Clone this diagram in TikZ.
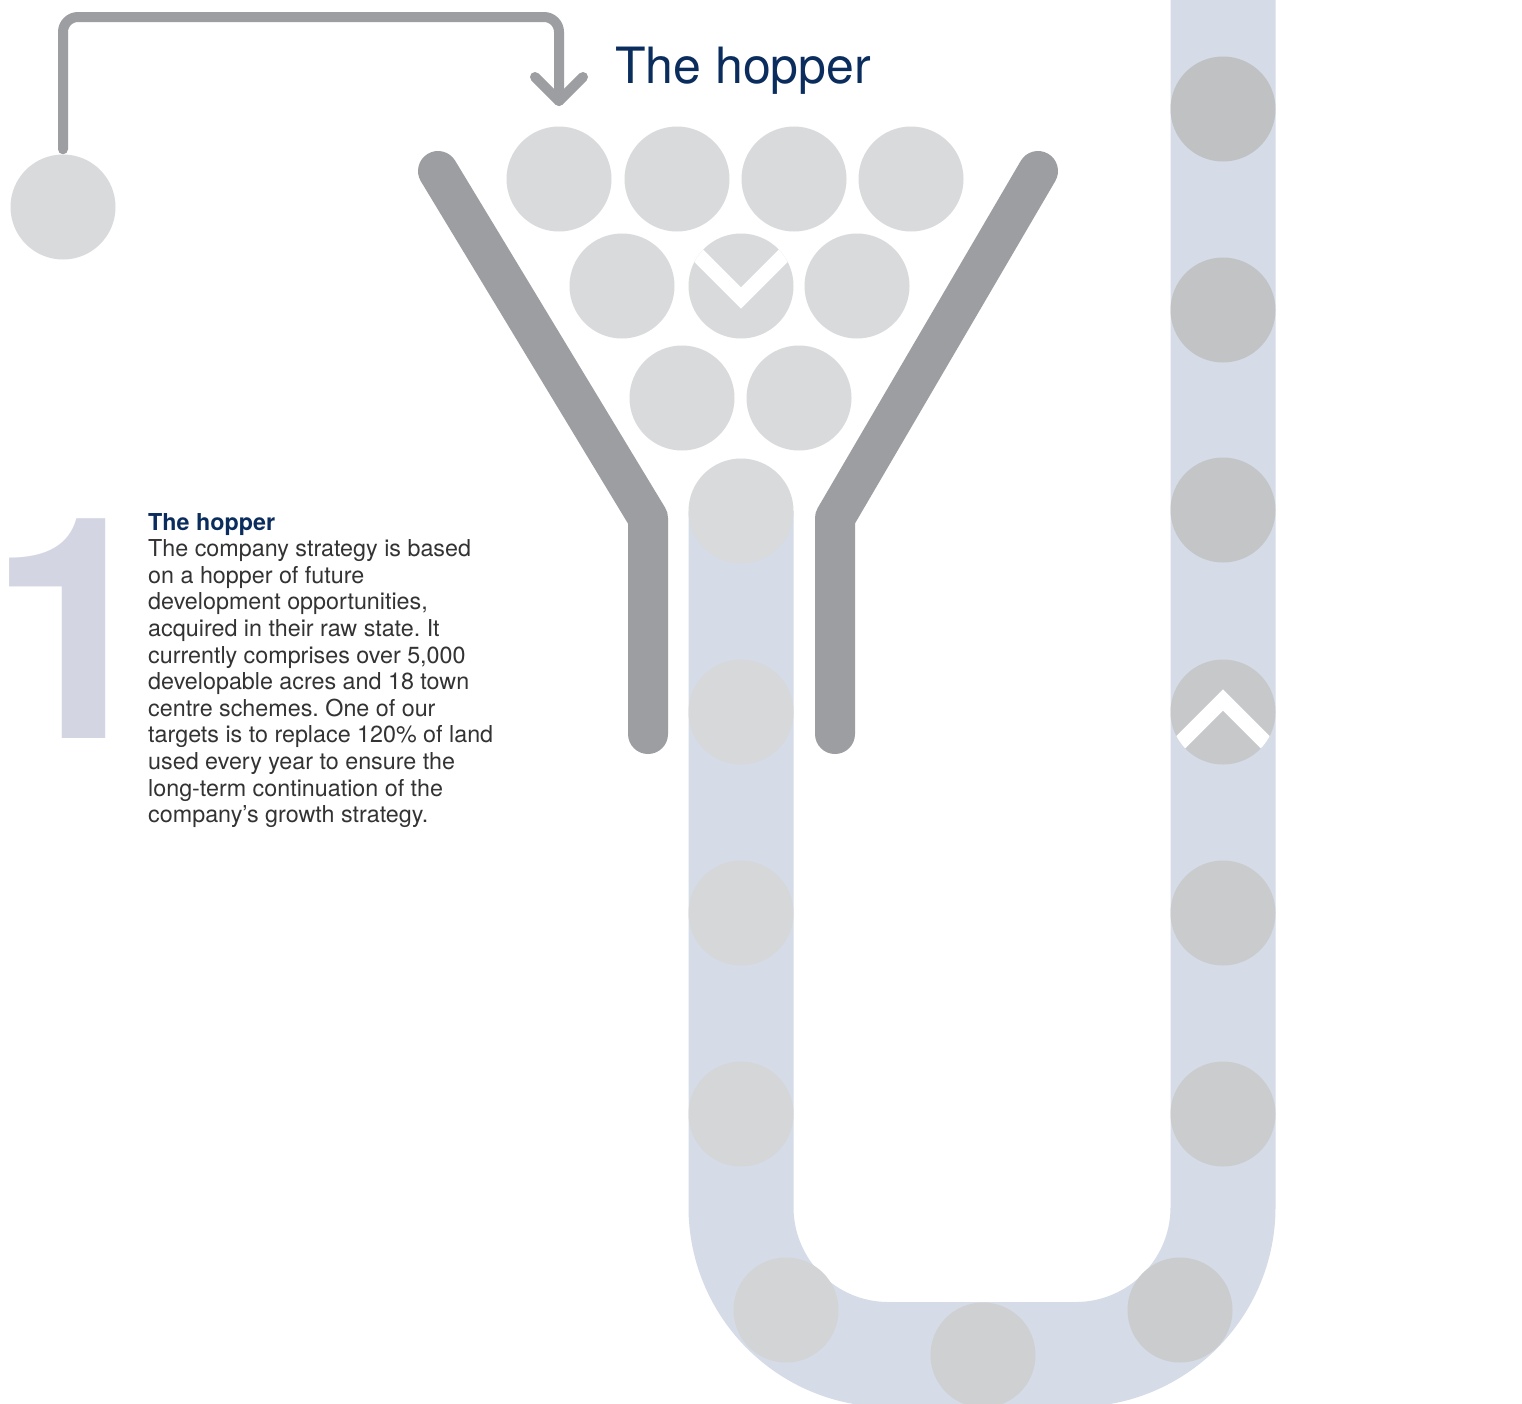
\documentclass[tikz,border=0pt]{standalone}
\usepackage{fontspec}
\setmainfont{TeX Gyre Heros}
\definecolor{navy}{HTML}{0B2D5E}
\definecolor{bodytext}{HTML}{333333}
\definecolor{wallgray}{HTML}{9D9EA2}
\definecolor{bandblue}{HTML}{D5DBE7}
\definecolor{numcol}{HTML}{D3D5E3}
\definecolor{ballA}{HTML}{D9DADC}
\definecolor{ballL2}{HTML}{D7D8DA}
\definecolor{ballL3}{HTML}{D6D7D9}
\definecolor{ballL4}{HTML}{D5D6D8}
\definecolor{ballB1}{HTML}{D3D4D6}
\definecolor{ballB2}{HTML}{CFD0D2}
\definecolor{ballB3}{HTML}{CBCCCD}
\definecolor{ballR6}{HTML}{CBCCCD}
\definecolor{ballR5}{HTML}{CACBCD}
\definecolor{ballR4}{HTML}{C7C8CA}
\definecolor{ballR3}{HTML}{C4C5C7}
\definecolor{ballR2}{HTML}{C2C3C5}
\definecolor{ballR1}{HTML}{C0C1C3}
\tikzset{
  ball/.style={circle, minimum size=105pt, inner sep=0pt, draw=none, fill=#1},
  ball/.default=ballA,
  arrowline/.style={draw=wallgray, line width=10pt, line cap=round},
  wall/.style={draw=wallgray, line width=40pt, line cap=round, line join=round},
  band/.style={draw=bandblue, line width=105pt},
  chev/.style={draw=white, line width=15pt, line join=miter}
}
\begin{document}
\frenchspacing
\begin{tikzpicture}[x=1pt,y=-1pt]
\useasboundingbox (0,0) rectangle (1522,1403);
\clip (0,0) rectangle (1522,1403);
\fill[white] (0,0) rectangle (1522,1403);

% conveyor band
\draw[band, rounded corners=147.5pt] (741,511) -- (741,1354.5) -- (1223,1354.5) -- (1223,-20);

% left band balls
\node[ball=ballA] (l1) at (741,511) {};
\node[ball=ballL2] (l2) at (741,712) {};
\node[ball=ballL3] (l3) at (741,913) {};
\node[ball=ballL4] (l4) at (741,1114) {};
% bottom balls
\node[ball=ballB1] (b1) at (786,1310) {};
\node[ball=ballB2] (b2) at (983,1355) {};
\node[ball=ballB3] (b3) at (1180,1310) {};
% right band balls
\node[ball=ballR6] (r6) at (1223,1114) {};
\node[ball=ballR5] (r5) at (1223,913) {};
\node[ball=ballR4] (r4) at (1223,712) {};
\node[ball=ballR3] (r3) at (1223,510) {};
\node[ball=ballR2] (r2) at (1223,310) {};
\node[ball=ballR1] (r1) at (1223,109) {};

% hopper balls
\node[ball] (t1) at (559,179) {};
\node[ball] (t2) at (677,179) {};
\node[ball] (t3) at (794,179) {};
\node[ball] (t4) at (911,179) {};
\node[ball] (m1) at (622,286) {};
\node[ball] (m2) at (741,286) {};
\node[ball] (m3) at (857,286) {};
\node[ball] (n1) at (682,398) {};
\node[ball] (n2) at (799,398) {};

% chevrons
\begin{scope}
  \clip (741,286) circle (52.5);
  \draw[chev] (681,238) -- (741,298) -- (801,238);
\end{scope}
\begin{scope}
  \clip (1223,712) circle (52.5);
  \draw[chev] (1163,760) -- (1223,700) -- (1283,760);
\end{scope}

% hopper walls
\draw[wall] (438,171) -- (648,518) -- (648,734);
\draw[wall] (1038,171) -- (835,518) -- (835,734);

% start ball and arrow
\node[ball] (start) at (63,207) {};
\coordinate (bend1) at (63,17);
\coordinate (bend2) at (559,17);
\coordinate (aend) at (559,101);
\draw[arrowline, rounded corners=15pt] ([yshift=5pt]start.north) -- (bend1) -- (bend2) -- (aend);
\draw[arrowline, line join=round] ([xshift=-24pt,yshift=24pt]aend) -- (aend) -- ([xshift=24pt,yshift=24pt]aend);

% title
\node[anchor=base west, inner sep=0pt, text=navy, font=\fontsize{50}{60}\selectfont] (title) at (615,83) {The hopper};

% big numeral
\node[anchor=base west, inner sep=0pt, text=numcol, font=\fontsize{310}{310}\selectfont\bfseries] (num) at (-12,738) {1};

% paragraph (anchored at the baseline of its last line)
\node[anchor=base west, inner sep=0pt, align=left, text=bodytext, font=\fontsize{23.3}{26.6}\selectfont] (para) at (148,822.6) {%
{\bfseries\color{navy}The hopper}\\
The company strategy is based\\
on a hopper of future\\
development opportunities,\\
acquired in their raw state. It\\
currently comprises over 5,000\\
developable acres and 18 town\\
centre schemes. One of our\\
targets is to replace 120\% of land\\
used every year to ensure the\\
long-term continuation of the\\
company’s growth strategy.};
\end{tikzpicture}
\end{document}
